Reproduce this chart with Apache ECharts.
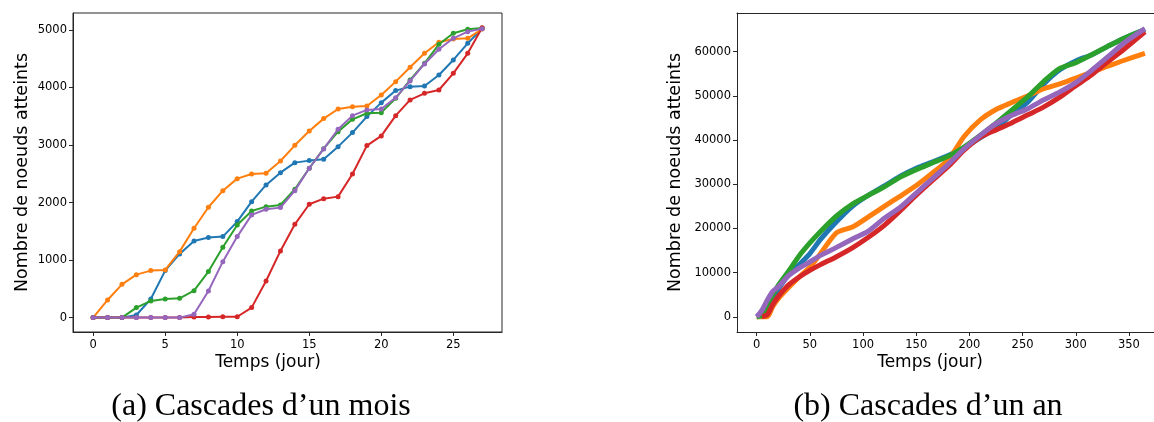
<!DOCTYPE html>
<html>
<head>
<meta charset="utf-8">
<script src="https://cdn.jsdelivr.net/npm/echarts@6/dist/echarts.min.js"></script>
<style>
html,body{margin:0;padding:0;background:#fff;}
#c{width:1154px;height:422px;}
</style>
</head>
<body>
<div id="c"></div>
<script>
// ---------- (a) one month ----------
const monthDays = [0,1,2,3,4,5,6,7,8,9,10,11,12,13,14,15,16,17,18,19,20,21,22,23,24,25,26,27];
const monthBlue   = [0,0,0,46,324,817,1107,1333,1391,1408,1669,2016,2306,2520,2694,2729,2752,2972,3216,3494,3737,3946,4015,4027,4218,4479,4768,5020];
const monthOrange = [0,307,579,747,817,829,1147,1553,1918,2207,2416,2497,2509,2723,2995,3244,3459,3627,3667,3679,3870,4102,4351,4594,4786,4844,4855,5015];
const monthGreen  = [0,0,0,174,290,324,336,469,800,1222,1611,1854,1929,1958,2231,2596,2937,3233,3447,3552,3563,3812,4131,4421,4751,4942,5012,5035];
const monthRed    = [0,0,0,0,0,0,0,10,12,14,15,174,637,1159,1622,1970,2068,2103,2497,2990,3158,3511,3784,3899,3957,4247,4594,5040];
const monthPurple = [0,0,0,0,0,0,0,58,463,973,1408,1785,1883,1912,2207,2596,2932,3274,3511,3610,3627,3824,4114,4409,4664,4855,4971,5020];
const monthXTicks = [0,5,10,15,20,25];
const monthYTicks = [0,1000,2000,3000,4000,5000];

// ---------- (b) one year ----------
const yearDays   = [0,5,10,15,20,30,40,50,60,75,90,105,120,135,150,165,180,195,210,225,240,255,270,285,300,315,330,345,365];
const yearBlue   = [0,500,2500,4300,6200,9500,11800,14300,17500,21500,25000,27500,29600,31800,33600,35000,36500,38200,40500,42700,45800,48600,52700,55900,57900,59300,61200,63000,65000];
const yearOrange = [0,0,0,2300,4000,6600,9000,11200,14300,19000,20300,22600,25000,27300,29700,32500,35500,40800,44500,46900,48500,50000,51600,52700,54000,55400,56700,58000,59600];
const yearGreen  = [0,300,2800,5000,7000,10300,13800,16700,19300,22800,25500,27500,29400,31600,33300,34800,36300,38400,41000,43800,46800,49800,53300,56200,57500,59300,61200,63000,65000];
const yearRed    = [null,0,500,2700,4500,7200,9000,10500,11800,13600,15600,18000,20700,24000,27500,30800,34000,37700,40600,42300,43900,45700,47500,49700,52300,54800,57700,60500,64500];
const yearPurple = [0,1500,3800,5700,6700,9300,11000,12400,13900,15700,17600,19400,22300,24800,28000,31200,34500,38000,41000,43700,45600,47100,49100,50900,53000,55800,58800,61900,65200];
const yearXTicks = [0,50,100,150,200,250,300,350];
const yearYTicks = [0,10000,20000,30000,40000,50000,60000];

const colors = ['#1f77b4','#ff7f0e','#2ca02c','#d62728','#9467bd'];
const zip = (xs, ys) => xs.map((x,i) => [x, ys[i]]);

const tickFont = {fontFamily:'DejaVu Sans', fontSize:11.5, color:'#000'};
const spine = '#262626';
const plain = v => String(Math.round(v));

function axisCfg(gi, min, max, ticks, margin){
  return {
    type:'value', gridIndex:gi, min:min, max:max,
    splitLine:{show:false},
    axisLine:{show:true, onZero:false, lineStyle:{color:spine, width:1}},
    axisTick:{show:true, length:4, customValues:ticks, lineStyle:{color:spine}},
    axisLabel:Object.assign({show:true, margin:margin, customValues:ticks, formatter:plain}, tickFont)
  };
}
function borderAxis(gi, min, max, pos){
  return {
    type:'value', gridIndex:gi, min:min, max:max, position:pos,
    splitLine:{show:false},
    axisLine:{show:true, onZero:false, lineStyle:{color:spine, width:1}},
    axisTick:{show:false}, axisLabel:{show:false}
  };
}

const monthSeries = [monthBlue, monthOrange, monthGreen, monthRed, monthPurple].map((ys,i) => ({
  type:'line', xAxisIndex:0, yAxisIndex:0, data:zip(monthDays, ys),
  symbol:'circle', symbolSize:5, showSymbol:true,
  itemStyle:{color:colors[i]}, lineStyle:{color:colors[i], width:2},
  z:2+i, animation:false, silent:true
}));
const yearSeries = [yearBlue, yearOrange, yearGreen, yearRed, yearPurple].map((ys,i) => ({
  type:'line', xAxisIndex:1, yAxisIndex:1, data:zip(yearDays, ys),
  symbol:'none', smooth:0.25, connectNulls:false,
  itemStyle:{color:colors[i]}, lineStyle:{color:colors[i], width:5},
  z:2+i, animation:false, silent:true
}));

const titleFont = {fontFamily:'DejaVu Sans', fill:'#000'};
const capFont = {fontFamily:'Liberation Serif', fill:'#000', fontSize:32};

const chart = echarts.init(document.getElementById('c'), null, {renderer:'canvas'});
chart.setOption({
  animation:false,
  backgroundColor:'#fff',
  grid:[
    {left:73, top:13, width:429, height:319, show:true, borderColor:spine, borderWidth:1, backgroundColor:'transparent', containLabel:false, outerBoundsMode:'none'},
    {left:737, top:13, width:426, height:319, show:false, containLabel:false, outerBoundsMode:'none'}
  ],
  xAxis:[ axisCfg(0, -1.4, 28.38, monthXTicks, 7), axisCfg(1, -18.5, 382, yearXTicks, 7), borderAxis(1, -18.5, 382, 'top') ],
  yAxis:[ axisCfg(0, -250, 5295, monthYTicks, 6), axisCfg(1, -3450, 68750, yearYTicks, 6) ],
  series: monthSeries.concat(yearSeries),
  graphic:[
    {type:'text', x:268, y:363, style:Object.assign({text:'Temps (jour)', fontSize:17, textAlign:'center', textVerticalAlign:'middle'}, titleFont)},
    {type:'text', x:930, y:363, style:Object.assign({text:'Temps (jour)', fontSize:17, textAlign:'center', textVerticalAlign:'middle'}, titleFont)},
    {type:'text', x:22, y:172.5, rotation:Math.PI/2, style:Object.assign({text:'Nombre de noeuds atteints', fontSize:17.5, textAlign:'center', textVerticalAlign:'middle'}, titleFont)},
    {type:'text', x:675.5, y:172.5, rotation:Math.PI/2, style:Object.assign({text:'Nombre de noeuds atteints', fontSize:17.5, textAlign:'center', textVerticalAlign:'middle'}, titleFont)},
    {type:'text', x:261, y:407, style:Object.assign({text:'(a) Cascades d\u2019un mois', textAlign:'center', textVerticalAlign:'middle'}, capFont)},
    {type:'text', x:928, y:407, style:Object.assign({text:'(b) Cascades d\u2019un an', textAlign:'center', textVerticalAlign:'middle'}, capFont)}
  ]
});
</script>
</body>
</html>
